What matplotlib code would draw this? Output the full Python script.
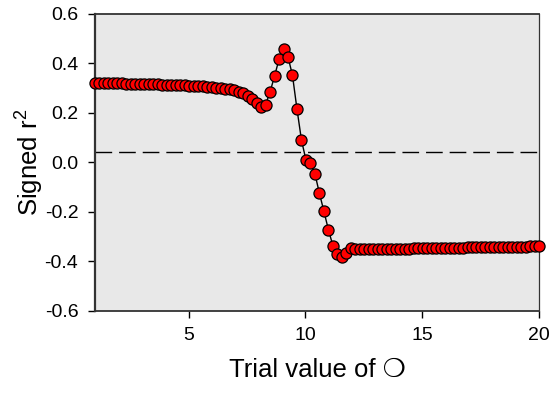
import numpy as np
import matplotlib
matplotlib.use("Agg")
import matplotlib.pyplot as plt

plt.rcParams['font.family'] = ['Liberation Sans', 'DejaVu Sans']
plt.rcParams['axes.unicode_minus'] = False

# trial values (100 steps from 1 to 20)
trial = np.linspace(1, 20, 100)

signed_r2 = [
    0.320, 0.320, 0.319, 0.319, 0.318, 0.318, 0.318, 0.317, 0.317, 0.316,
    0.316, 0.315, 0.315, 0.314, 0.314, 0.313, 0.313, 0.312, 0.311, 0.311,
    0.310, 0.309, 0.308, 0.307, 0.306, 0.305, 0.303, 0.301, 0.299, 0.296,
    0.293, 0.289, 0.284, 0.277, 0.268, 0.256, 0.240, 0.221, 0.231, 0.283,
    0.347, 0.415, 0.455, 0.425, 0.350, 0.214, 0.089, 0.008, -0.005, -0.048,
    -0.126, -0.199, -0.273, -0.338, -0.373, -0.383, -0.366, -0.349, -0.352, -0.353,
    -0.353, -0.353, -0.352, -0.352, -0.352, -0.351, -0.351, -0.351, -0.350, -0.350,
    -0.350, -0.349, -0.349, -0.349, -0.348, -0.348, -0.348, -0.347, -0.347, -0.347,
    -0.346, -0.346, -0.346, -0.345, -0.345, -0.345, -0.344, -0.344, -0.344, -0.343,
    -0.343, -0.343, -0.343, -0.342, -0.342, -0.342, -0.342, -0.341, -0.341, -0.341,
]

threshold = 0.04

xticks = [5, 10, 15, 20]
yticks = [-0.6, -0.4, -0.2, 0.0, 0.2, 0.4, 0.6]

fig = plt.figure(figsize=(5.54, 3.93), dpi=100)
ax = fig.add_axes([0.1715, 0.2099, 0.802, 0.7557])
ax.set_facecolor('#e8e8e8')

ax.axhline(threshold, color='black', lw=1.0, dashes=(12, 5), zorder=1)
ax.plot(trial, signed_r2, color='black', lw=1.0, marker='o', ms=8.0,
        mfc='#ff0000', mec='black', mew=0.9, clip_on=False, zorder=3)

ax.set_xlim(1, 20)
ax.set_ylim(-0.6, 0.6)
ax.set_xticks(xticks)
ax.set_yticks(yticks)
ax.set_yticklabels([f"{v:.1f}" for v in yticks])
ax.tick_params(direction='out', length=5, width=1, labelsize=14, colors='black', pad=7)

for side, lw in [('left', 1.6), ('bottom', 1.3), ('top', 1.3), ('right', 0.9)]:
    ax.spines[side].set_linewidth(lw)
    ax.spines[side].set_color('#333333')

ax.set_xlabel("Trial value of \u274d", fontsize=18.5, labelpad=10)
ax.set_ylabel("Signed r$^\\mathregular{2}$", fontsize=18.5, labelpad=0)

fig.savefig("out.png", dpi=100)
